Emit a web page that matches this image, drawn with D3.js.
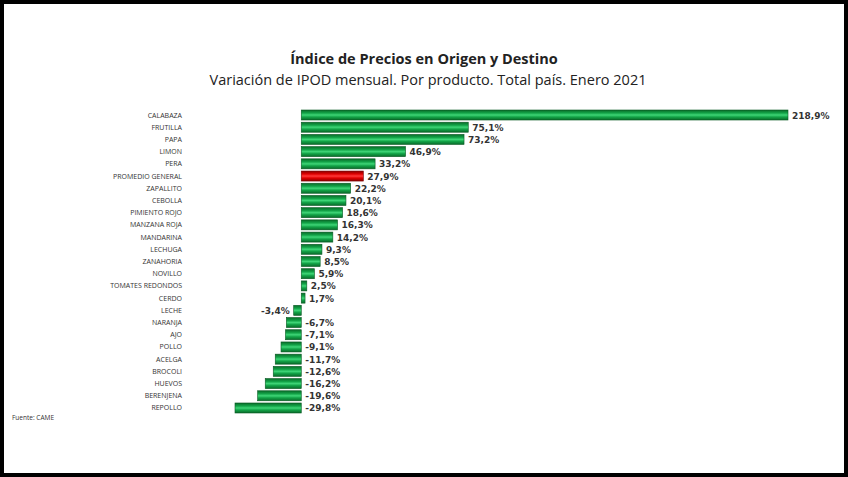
<!DOCTYPE html>
<html><head><meta charset="utf-8">
<script src="https://cdn.jsdelivr.net/npm/d3@7"></script>
<style>body{margin:0;background:#000}svg{display:block}</style>
</head><body>
<svg id="chart" width="848" height="477"></svg>
<script>
const products = ["CALABAZA","FRUTILLA","PAPA","LIMON","PERA","PROMEDIO GENERAL","ZAPALLITO","CEBOLLA","PIMIENTO ROJO","MANZANA  ROJA","MANDARINA","LECHUGA","ZANAHORIA","NOVILLO","TOMATES REDONDOS","CERDO","LECHE","NARANJA","AJO","POLLO","ACELGA","BROCOLI","HUEVOS","BERENJENA","REPOLLO"];
const values = [218.9,75.1,73.2,46.9,33.2,27.9,22.2,20.1,18.6,16.3,14.2,9.3,8.5,5.9,2.5,1.7,-3.4,-6.7,-7.1,-9.1,-11.7,-12.6,-16.2,-19.6,-29.8];
const highlight = "PROMEDIO GENERAL";

const svg = d3.select("#chart");
svg.append("rect").attr("x",4).attr("y",4).attr("width",840).attr("height",469).attr("fill","#fff");

const defs = svg.append("defs");
function grad(id, edge, mid, light) {
  const g = defs.append("linearGradient").attr("id",id).attr("x1",0).attr("y1",0).attr("x2",0).attr("y2",1);
  g.append("stop").attr("offset","0%").attr("stop-color",edge);
  g.append("stop").attr("offset","30%").attr("stop-color",mid);
  g.append("stop").attr("offset","50%").attr("stop-color",light);
  g.append("stop").attr("offset","70%").attr("stop-color",mid);
  g.append("stop").attr("offset","100%").attr("stop-color",edge);
}
grad("g-green","#0a6a2a","#12a347","#3fd577");
grad("g-red","#8a0000","#e00000","#ff3a3a");

const x = d3.scaleLinear().domain([-29.8,218.9]).range([235,788]);
const y = d3.scaleBand().domain(products).range([110,413]).paddingInner(0.18);

svg.append("text").attr("x",424).attr("y",64).attr("text-anchor","middle")
  .attr("font-family","Open Sans, sans-serif").attr("font-weight","bold").attr("font-size",14.5).attr("fill","#222")
  .text("Índice de Precios  en Origen y Destino");
svg.append("text").attr("x",428).attr("y",85).attr("text-anchor","middle")
  .attr("font-family","Open Sans, sans-serif").attr("font-size",14.5).attr("fill","#222")
  .text("Variación de IPOD mensual. Por producto. Total país. Enero 2021");

const rows = svg.selectAll("g.row").data(products).enter().append("g").attr("class","row");
rows.append("text").attr("x",182).attr("y",d=>y(d)+y.bandwidth()/2+2.5).attr("text-anchor","end")
  .attr("font-family","Open Sans, sans-serif").attr("font-size",7).attr("fill","#333").text(d=>d);
rows.append("rect")
  .attr("x",(d,i)=>x(Math.min(0,values[i])))
  .attr("y",d=>y(d))
  .attr("width",(d,i)=>Math.abs(x(values[i])-x(0)))
  .attr("height",y.bandwidth())
  .attr("fill",d=>d===highlight?"url(#g-red)":"url(#g-green)")
  .attr("stroke",d=>d===highlight?"#700":"#075a22").attr("stroke-width",0.6);
rows.append("text")
  .attr("x",(d,i)=>values[i]>=0 ? x(values[i])+4 : (values[i]>-5 ? x(values[i])-4 : x(0)+4))
  .attr("y",d=>y(d)+y.bandwidth()/2+3.5)
  .attr("text-anchor",(d,i)=>values[i]<0&&values[i]>-5?"end":"start")
  .attr("font-family","DejaVu Sans, sans-serif").attr("font-weight","bold").attr("font-size",9).attr("fill","#333")
  .text((d,i)=>d3.format(".1f")(values[i]).replace(".",",").replace("−","-")+"%");

svg.append("text").attr("x",12).attr("y",420).attr("font-family","Open Sans, sans-serif").attr("font-size",6.5).attr("fill","#333").text("Fuente: CAME");
</script>
</body></html>
